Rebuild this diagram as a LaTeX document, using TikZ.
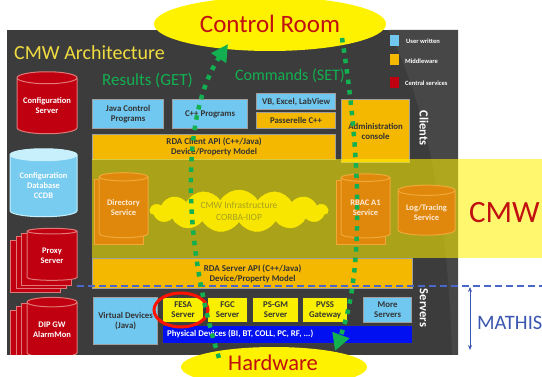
\documentclass[tikz,border=0pt]{standalone}
\usepackage{fontspec}
\setmainfont{Carlito}
\usetikzlibrary{shapes.geometric,shapes.symbols,arrows.meta}
\definecolor{panel}{HTML}{3C3C3C}
\definecolor{panellight}{HTML}{474747}
\definecolor{ublue}{HTML}{70C8F0}
\definecolor{mware}{HTML}{F5B800}
\definecolor{csred}{HTML}{C00010}
\definecolor{csedge}{HTML}{E07878}
\definecolor{cylor}{HTML}{E0880C}
\definecolor{cyledge}{HTML}{F0A838}
\definecolor{ybox}{HTML}{F8F000}
\definecolor{physb}{HTML}{0010F0}
\definecolor{arrgreen}{HTML}{12B050}
\definecolor{dred}{HTML}{C01010}
\definecolor{titley}{HTML}{F0DC40}
\definecolor{dashb}{HTML}{4A66C8}
\definecolor{mblue}{HTML}{3A56B0}
\definecolor{cloudy}{HTML}{F8E600}
\definecolor{cloudtxt}{HTML}{A8A020}
\definecolor{ccdbfill}{HTML}{78CCF0}
\definecolor{ccdbtop}{HTML}{C8F0FC}
\begin{document}
\begin{tikzpicture}[x=1pt,y=-1pt,
  bx/.style={draw=gray!75, line width=1.2pt, align=center, inner sep=0pt, anchor=north west, text=black!80, font=\bfseries\fontsize{8.8}{10}\selectfont},
  ubox/.style={bx, fill=ublue},
  mbox/.style={bx, fill=mware},
  ysrv/.style={bx, fill=ybox, draw=gray!50!black, font=\bfseries\fontsize{8.8}{10}\selectfont},
  cyl/.style={cylinder, shape border rotate=90, aspect=0.25, line width=1pt, align=center, inner sep=0pt, font=\bfseries\fontsize{8.5}{10}\selectfont},
  redcyl/.style={cyl, draw=csedge, cylinder uses custom fill, cylinder body fill=csred, cylinder end fill=csred, text=white},
  orcyl/.style={cyl, draw=cyledge, cylinder uses custom fill, cylinder body fill=cylor, cylinder end fill=cylor, text=white!85!orange},
  legtxt/.style={anchor=west, text=white, font=\bfseries\fontsize{6.5}{7.5}\selectfont, inner sep=0pt},
  side/.style={text=white, rotate=-90, font=\bfseries\fontsize{12.5}{14}\selectfont},
  garrow/.style={draw=arrgreen, line width=4.5pt, dash pattern=on 4.5pt off 6pt, -{Triangle[width=17pt,length=17pt]}},
  bubble/.style={ellipse, fill=yellow, inner sep=0pt, text=dred}
]
\useasboundingbox (0,0) rectangle (542,377);
% panel
\fill[panel] (7,30) rectangle (458,355);
\fill[panellight] (388,30) .. controls (425,100) and (448,210) .. (452,355) -- (458,355) -- (458,30) -- cycle;
% title and headings
\node[anchor=west, text=titley, font=\fontsize{20}{24}\selectfont, inner sep=0pt] (title) at (14,53) {CMW Architecture};
\node[anchor=west, text=arrgreen, font=\fontsize{17}{20}\selectfont, inner sep=0pt] (results) at (102,80) {Results (GET)};
\node[anchor=west, text=arrgreen, font=\fontsize{16}{20}\selectfont, inner sep=0pt] (commands) at (235,76) {Commands (SET)};
% legend
\fill[ublue] (390,35) rectangle (399,46);
\fill[mware] (390,54) rectangle (399,65);
\fill[csred] (390,77) rectangle (399,88);
\node[legtxt] (lu) at (406,41) {User written};
\node[legtxt] (lm) at (405,61) {Middleware};
\node[legtxt] (lc) at (405,83) {Central services};
\node[side] (clients) at (424,128) {Clients};
\node[side] (servers) at (424,308) {Servers};
% client boxes
\node[ubox, minimum width=71, minimum height=29] (java) at (92,99) {Java Control\\Programs};
\node[ubox, minimum width=75, minimum height=29] (cpp) at (172,99) {C++ Programs};
\node[ubox, minimum width=79, minimum height=16] (vb) at (256,93) {VB, Excel, LabView};
\node[mbox, minimum width=79, minimum height=16] (pass) at (256,112) {Passerelle C++};
\node[mbox, minimum width=68, minimum height=63] (admin) at (341,99) {Administration\\console};
\node[mbox, minimum width=243, minimum height=25] (rdac) at (92,134) {\fontsize{9}{10}\selectfont RDA Client API (C++/Java)\\Device/Property Model};
% CMW band
\fill[yellow, opacity=0.57] (92,159) rectangle (542,258);
\node[anchor=west, text=dred, font=\fontsize{31}{34}\selectfont, inner sep=0pt] (cmw) at (469,213) {CMW};
% left column
\node[redcyl, minimum width=60, minimum height=62] (confsrv) at (47,106) {Configuration\\Server};
\node[cyl, draw=ccdbtop, cylinder uses custom fill, cylinder body fill=ccdbfill, cylinder end fill=ccdbtop, text=white, minimum width=67, minimum height=68] (ccdb) at (43.5,186) {Configuration\\Database\\CCDB};
\foreach \k in {3,2,1} {
  \node[redcyl, minimum width=50, minimum height=52] at (52-5.5*\k,256+3.5*\k) {};
}
\node[redcyl, minimum width=50, minimum height=52] (proxy) at (52,256) {Proxy\\Server};
\begin{scope}
\clip (7,30) rectangle (458,355);
\foreach \k in {3,2,1} {
  \node[redcyl, minimum width=50, minimum height=60] at (52-5.5*\k,330+3.5*\k) {};
}
\node[redcyl, minimum width=50, minimum height=60] (dip) at (52,330) {DIP GW\\AlarmMon};
\end{scope}
% band content
\node[orcyl, minimum width=49, minimum height=65] at (118.5,212.5) {};
\node[orcyl, minimum width=49, minimum height=65] (dir) at (123.5,207.5) {Directory\\Service};
\node[cloud, cloud puffs=15, cloud puff arc=120, aspect=4.2, fill=cloudy, draw=cloudy, inner sep=0pt, minimum width=178, minimum height=42, text=cloudtxt, align=center, font=\fontsize{9.5}{12}\selectfont] (infra) at (239,211) {CMW Infrastructure\\CORBA-IIOP};
\node[orcyl, minimum width=49, minimum height=64] at (360.5,213) {};
\node[orcyl, minimum width=49, minimum height=64] (rbac) at (365.5,208) {RBAC A1\\Service};
\node[orcyl, minimum width=57, minimum height=50] (log) at (426.5,213) {Log/Tracing\\Service};
% server layer
\node[mbox, minimum width=320, minimum height=30] (rdas) at (92,258) {\fontsize{9}{10}\selectfont RDA Server API (C++/Java)\\Device/Property Model};
\node[ubox, minimum width=64, minimum height=47] (virt) at (93,297) {Virtual Devices\\(Java)};
\node[ysrv, minimum width=41, minimum height=25] (fesa) at (162,297) {FESA\\Server};
\node[ysrv, minimum width=40, minimum height=25] (fgc) at (207,297) {FGC\\Server};
\node[ysrv, minimum width=46, minimum height=25] (psgm) at (252,297) {PS-GM\\Server};
\node[ysrv, minimum width=45, minimum height=25] (pvss) at (302,297) {PVSS\\Gateway};
\node[ubox, minimum width=48, minimum height=25] (more) at (363,297) {More\\Servers};
\node[bx, fill=physb, draw=gray!50!black, minimum width=250, minimum height=18] (phys) at (162,325) {};
\node[anchor=west, text=white, inner sep=0pt, font=\bfseries\fontsize{8.8}{10}\selectfont] (physt) at (167,334) {Physical Devices (BI, BT, COLL, PC, RF, ...)};
% MATHIS
\draw[dashb, line width=1.8pt, dash pattern=on 7pt off 4pt] (77,286) -- (542,286);
\coordinate (mtop) at (470,287);
\coordinate (mbot) at (470,350);
\draw[mblue, line width=0.8pt, {Stealth[length=5pt,width=4pt]}-{Stealth[length=5pt,width=4pt]}] (mtop) -- (mbot);
\node[anchor=west, text=mblue, font=\fontsize{20.5}{24}\selectfont, inner sep=0pt] (mathis) at (477,323) {MATHIS};
% FESA highlight
\node[ellipse, draw=red!85!orange, line width=3pt, minimum width=54, minimum height=34] (fesaring) at (181,310) {};
% bubbles
\node[bubble, minimum width=232, minimum height=54, font=\fontsize{25}{30}\selectfont] (ctrl) at (270,24) {Control Room};
\node[bubble, minimum width=186, minimum height=40] (hw) at (274,367) {};
\node[text=dred, inner sep=0pt, font=\fontsize{22.5}{26}\selectfont] (hwt) at (273,363) {Hardware};
% green flows
\coordinate (getS) at (219,358);
\coordinate (getE) at (228,44);
\coordinate (setS) at (342,38);
\coordinate (setE) at (335,351);
\draw[garrow] (getS) .. controls (185,250) and (178,120) .. (getE);
\draw[garrow] (setS) .. controls (360,150) and (365,270) .. (setE);
\end{tikzpicture}
\end{document}
